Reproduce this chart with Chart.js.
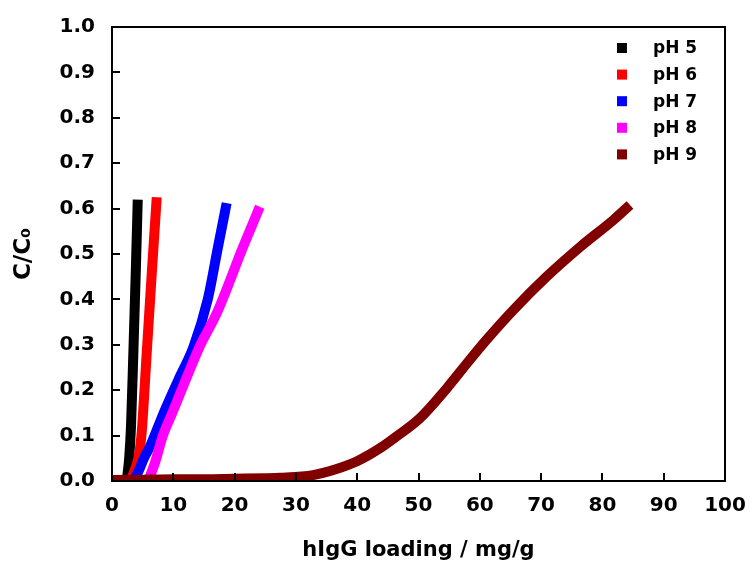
<!DOCTYPE html>
<html>
<head>
<meta charset="utf-8">
<script src="https://cdn.jsdelivr.net/npm/chart.js@4.4.0/dist/chart.umd.min.js"></script>
<style>
  html, body { margin: 0; padding: 0; background: #fff; }
  #wrap { width: 752px; height: 567px; }
</style>
</head>
<body>
<div id="wrap"><canvas id="myChart" width="752" height="567"></canvas></div>
<script>
const seriesLabels = ["pH 5", "pH 6", "pH 7", "pH 8", "pH 9"];
const seriesColors = ["#000000", "#ff0000", "#0000ff", "#ff00ff", "#800000"];

// loading (mg/g) and C/C0
const ph5X = [2.4, 2.8, 3.1, 3.5, 3.9, 4.2];
const ph5Y = [0.0, 0.05, 0.12, 0.29, 0.47, 0.62];

const ph6X = [3.0, 3.6, 4.3, 4.8, 5.7, 6.5, 7.3];
const ph6Y = [0.0, 0.02, 0.05, 0.1, 0.29, 0.46, 0.625];

const ph7X = [3.5, 4.4, 5.2, 6.2, 8.4, 10.8, 13.3, 15.6, 17.3, 18.7];
const ph7Y = [0.0, 0.024, 0.05, 0.076, 0.149, 0.222, 0.296, 0.399, 0.516, 0.612];

const ph8X = [5.9, 7.0, 8.3, 9.8, 12.0, 14.3, 17.1, 21.4, 24.1];
const ph8Y = [0.0, 0.04, 0.1, 0.149, 0.222, 0.296, 0.37, 0.516, 0.604];

const ph9X = [0, 5, 10, 15, 20, 25, 27.4, 32.8, 36.5, 39.9, 43.7, 46.4, 50.2, 54.6, 57.9, 61.1, 65.5, 70.9, 76.4, 81.8, 84.5];
const ph9Y = [0.002, 0.003, 0.004, 0.004, 0.005, 0.006, 0.007, 0.013, 0.026, 0.043, 0.072, 0.098, 0.138, 0.204, 0.259, 0.311, 0.377, 0.45, 0.516, 0.575, 0.608];

const xTicks = [0, 10, 20, 30, 40, 50, 60, 70, 80, 90, 100];
const yTicks = [0, 0.1, 0.2, 0.3, 0.4, 0.5, 0.6, 0.7, 0.8, 0.9, 1.0];

const allX = [ph5X, ph6X, ph7X, ph8X, ph9X];
const allY = [ph5Y, ph6Y, ph7Y, ph8Y, ph9Y];

const datasets = seriesLabels.map((label, i) => ({
  label: label,
  data: allX[i].map((x, j) => ({ x: x, y: allY[i][j] })),
  borderColor: seriesColors[i],
  backgroundColor: seriesColors[i],
  borderWidth: 10,
  showLine: true,
  pointRadius: 0,
  cubicInterpolationMode: "monotone",
  order: seriesLabels.length - i,
}));

// frame + inward ticks like the origin plot
const frameTicks = {
  id: "frameTicks",
  afterDatasetsDraw(chart) {
    const { ctx, chartArea: a, scales } = chart;
    ctx.save();
    ctx.strokeStyle = "#000";
    ctx.lineWidth = 2;
    ctx.beginPath();
    xTicks.forEach((v) => {
      const px = Math.round(scales.x.getPixelForValue(v));
      ctx.moveTo(px, a.bottom);
      ctx.lineTo(px, a.bottom - 8);
    });
    yTicks.forEach((v) => {
      const py = Math.round(scales.y.getPixelForValue(v));
      ctx.moveTo(a.left, py);
      ctx.lineTo(a.left + 8, py);
    });
    ctx.stroke();
    ctx.strokeRect(a.left, a.top, a.right - a.left, a.bottom - a.top);
    ctx.restore();
  },
  afterDraw(chart) {
    const { ctx, chartArea: a } = chart;
    ctx.save();
    ctx.font = "bold 17px 'DejaVu Sans'";
    ctx.textBaseline = "middle";
    chart.data.datasets.forEach((ds, i) => {
      const cy = a.top + 21 + i * 26.6;
      ctx.fillStyle = ds.borderColor;
      ctx.fillRect(a.right - 108, cy - 5, 10, 10);
      ctx.fillStyle = "#000";
      ctx.fillText(ds.label, a.right - 72, cy + 1);
    });
    ctx.restore();
  },
};

const config = {
  type: "scatter",
  data: { datasets: datasets },
  options: {
    responsive: false,
    animation: false,
    layout: { padding: { left: 0, top: 27, right: 27, bottom: 0 } },
    plugins: {
      legend: { display: false },
      tooltip: { enabled: false },
    },
    scales: {
      x: {
        type: "linear",
        min: 0,
        max: 100,
        afterBuildTicks: (scale) => { scale.ticks = xTicks.map((v) => ({ value: v })); },
        afterFit: (scale) => { scale.height = 86; },
        grid: { display: false },
        border: { display: false },
        ticks: {
          color: "#000",
          padding: 5,
          font: { size: 20, weight: "bold" },
          callback: (v) => v,
        },
        title: {
          display: true,
          text: "hIgG loading / mg/g",
          color: "#000",
          padding: { top: 0, bottom: 4 },
          font: { size: 21, weight: "bold" },
        },
      },
      y: {
        type: "linear",
        min: 0,
        max: 1,
        afterBuildTicks: (scale) => { scale.ticks = yTicks.map((v) => ({ value: v })); },
        afterFit: (scale) => { scale.width = 112; },
        grid: { display: false },
        border: { display: false },
        ticks: {
          color: "#000",
          padding: 9,
          font: { size: 20, weight: "bold" },
          callback: (v) => v.toFixed(1),
        },
        title: {
          display: true,
          text: "C/C\u2080",
          color: "#000",
          padding: { top: 10, bottom: 0 },
          font: { size: 23, weight: "bold" },
        },
      },
    },
  },
  plugins: [frameTicks],
};

Chart.defaults.font.family = "'DejaVu Sans', sans-serif";
Chart.defaults.color = "#000";

let myChart = new Chart(document.getElementById("myChart"), config);
</script>
</body>
</html>
